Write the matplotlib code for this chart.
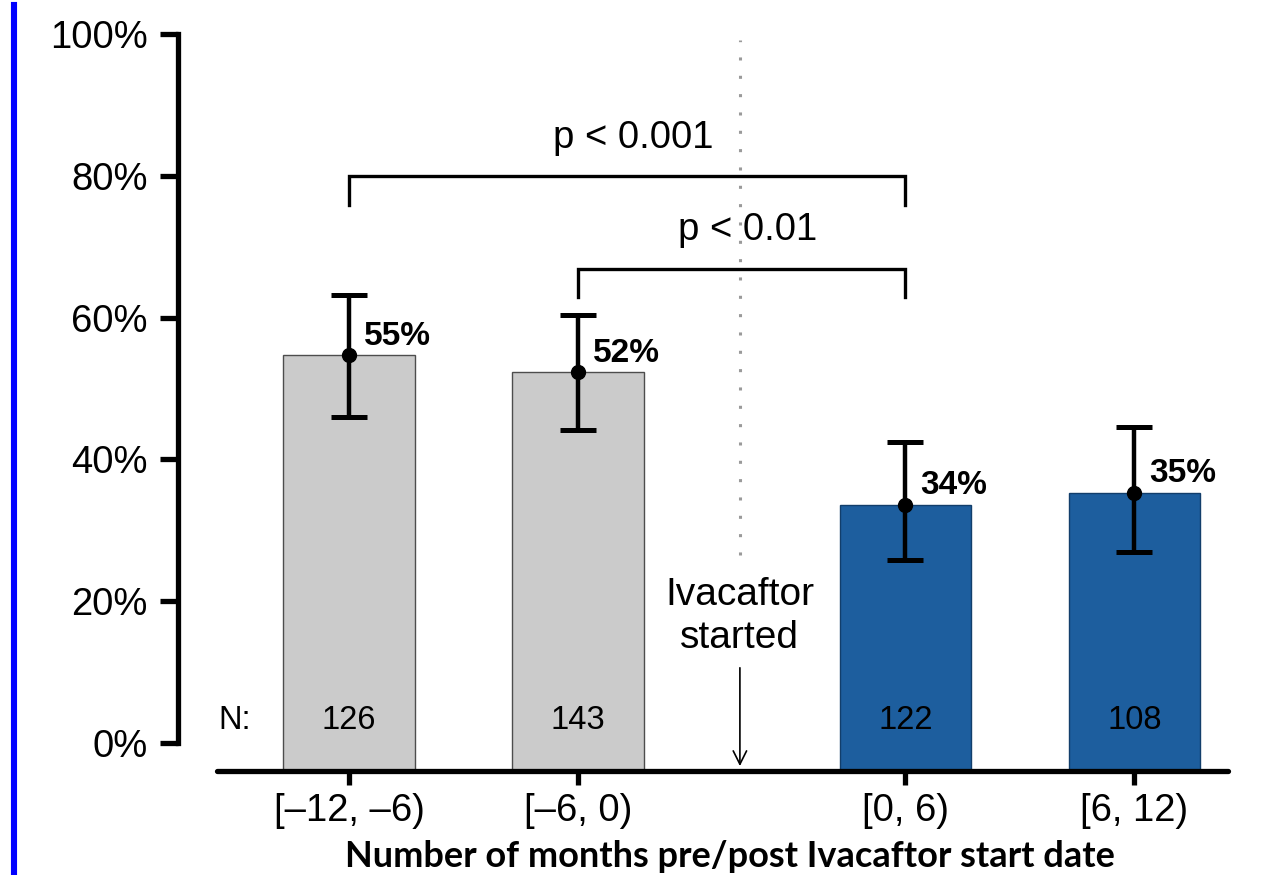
import matplotlib
matplotlib.use("Agg")
import matplotlib.pyplot as plt
from matplotlib.lines import Line2D

# ---- data -------------------------------------------------------------
categories = ["[\u201312, \u20136)", "[\u20136, 0)", "[0, 6)", "[6, 12)"]
positions = [0.0, 1.0, 2.43, 3.43]
pct = [54.7, 52.3, 33.6, 35.3]
ci_low = [46.0, 44.1, 25.8, 26.9]
ci_high = [63.2, 60.4, 42.4, 44.6]
n_patients = [126, 143, 122, 108]
bar_colors = ["#cbcbcb", "#cbcbcb", "#1d5e9e", "#1d5e9e"]
edge_colors = ["#4d4d4d", "#4d4d4d", "#123e6b", "#123e6b"]
y_ticks = [0, 20, 40, 60, 80, 100]
comparisons = [
    # (left index, right index, bracket top, leg bottom, label, label y)
    (0, 2, 80.0, 75.9, "p < 0.001", 85.4),
    (1, 2, 66.9, 62.9, "p < 0.01", 72.4),
]
start_marker_x = 1.707
base_line = -3.95

plt.rcParams["font.family"] = ["Liberation Sans", "DejaVu Sans"]

W, H = 1274, 875
fig = plt.figure(figsize=(W / 100, H / 100), dpi=100)

# axes placement in pixels: x data 0 -> 349 px, 229 px per unit;
# y data 0 -> 743 px, 7.09 px per percent
px_per_x, px_per_y = 229.0, 7.09
left_px, right_px = 150, 1250
ylo, yhi = -6.0, 104.0
bottom_px = 743 + (-ylo) * px_per_y
top_px = 743 - yhi * px_per_y
ax = fig.add_axes([left_px / W, 1 - bottom_px / H,
                   (right_px - left_px) / W, (bottom_px - top_px) / H])
ax.set_xlim((left_px - 349) / px_per_x, (right_px - 349) / px_per_x)
ax.set_ylim(ylo, yhi)
ax.patch.set_alpha(0)

# bars rise from the horizontal base line
width = 0.576
for x, v, c, ec in zip(positions, pct, bar_colors, edge_colors):
    ax.bar(x, v - base_line, bottom=base_line, width=width, color=c,
           edgecolor=ec, linewidth=1.0, zorder=2)

# confidence intervals and point estimates
for x, v, lo, hi in zip(positions, pct, ci_low, ci_high):
    ax.errorbar(x, v, yerr=[[v - lo], [hi - v]], fmt="o", color="black",
                markersize=10, elinewidth=3.2, capsize=13, capthick=3.6,
                zorder=4)
    ax.text(x + 0.066, v + 2.7, f"{round(v)}%", fontsize=24,
            fontweight="bold", ha="left", va="center", zorder=5)

# sample sizes
ax.text(-0.50, 3.2, "N:", fontsize=23.5, ha="center", va="center", zorder=5)
for x, n in zip(positions, n_patients):
    ax.text(x, 3.2, str(n), fontsize=23.5, ha="center", va="center", zorder=5)

# treatment start marker
ax.plot([start_marker_x, start_marker_x], [26.5, 99.2], color="#9a9a9a",
        linestyle=(0, (1, 5)), linewidth=2.2, zorder=1)
ax.text(start_marker_x, 17.9, "Ivacaftor\nstarted", fontsize=28,
        ha="center", va="center", linespacing=1.25, zorder=5)
ax.annotate("", xy=(start_marker_x, base_line + 0.3),
            xytext=(start_marker_x, 11.0),
            arrowprops=dict(arrowstyle="->", color="black", lw=1.2,
                            mutation_scale=24), zorder=5)

# significance brackets
for i, j, top, leg, label, ly in comparisons:
    xl, xr = positions[i], positions[j]
    ax.plot([xl, xl, xr, xr], [leg, top, top, leg], color="black",
            linewidth=2.4, solid_joinstyle="miter", zorder=3)
    ax.text((xl + xr) / 2 + 0.025, ly, label, fontsize=27.5,
            ha="center", va="center", zorder=5)

# axes styling
for side in ("top", "right"):
    ax.spines[side].set_visible(False)
ax.spines["left"].set_bounds(0, 100)
ax.spines["left"].set_position(("data", (178 - 349) / px_per_x))
ax.spines["left"].set_linewidth(3.8)
ax.spines["left"].set_capstyle("projecting")
ax.spines["bottom"].set_bounds((217 - 349) / px_per_x, (1228 - 349) / px_per_x)
ax.spines["bottom"].set_position(("data", base_line))
ax.spines["bottom"].set_linewidth(3.8)
ax.spines["bottom"].set_capstyle("round")

ax.set_yticks(y_ticks)
ax.set_yticklabels([f"{t}%" for t in y_ticks])
ax.set_xticks(positions)
ax.set_xticklabels(categories)
ax.tick_params(axis="y", length=13, width=3.8, pad=9, labelsize=27.5,
               direction="out")
ax.tick_params(axis="x", length=10, width=3.8, pad=6, labelsize=27.5,
               direction="out")

ax.set_xlabel("Number of months pre/post Ivacaftor start date",
              fontsize=26, fontweight="bold", family=["Lato", "DejaVu Sans"])
ax.xaxis.set_label_coords((730 - left_px) / (right_px - left_px),
                          1 - (867 - top_px) / (bottom_px - top_px))
ax.xaxis.label.set_va("baseline")

# blue margin rule along the left edge
fig.add_artist(Line2D([14 / W, 14 / W], [0, 1 - 5 / H], color="#0000ff",
                      linewidth=4.4, transform=fig.transFigure))

fig.savefig("out.png", dpi=100)
